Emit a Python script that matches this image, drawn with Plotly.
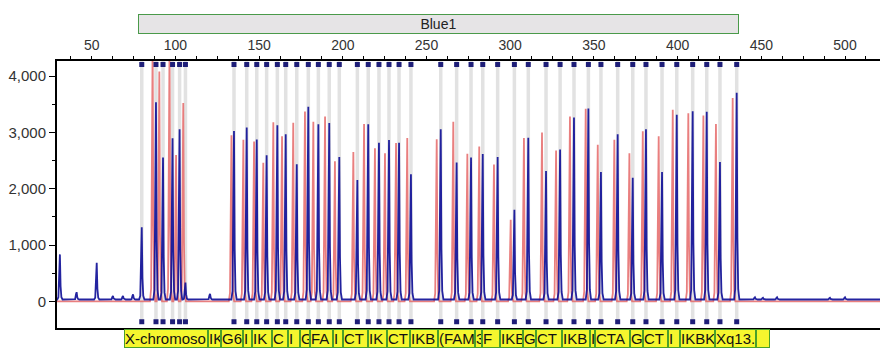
import plotly.graph_objects as go

# ---------------- data ----------------
# bin centres (bp) = sample (blue) peak positions
bin_bp = [79.9, 88.4, 92.6, 98.3, 102.5, 106.0,
          135.0, 142.6, 148.6, 154.5, 160.9, 165.9, 172.5, 179.4, 185.4, 191.9, 197.9,
          208.7, 215.2, 221.6, 227.6, 233.6, 240.7,
          258.5, 268.0, 276.6, 283.6, 292.5, 302.5, 310.8, 321.4, 329.8, 338.1, 346.7,
          354.2, 364.2, 373.2, 381.1, 390.7, 399.5, 409.0, 417.4, 425.3, 435.3]
blue_height = [1280, 3500, 2520, 2860, 3020, 300,
               2990, 3050, 2840, 2560, 3090, 2930, 2400, 3420, 3110, 3130, 2530,
               2120, 3110, 2780, 2830, 2780, 2220,
               3020, 2430, 2520, 2580, 2530, 1590, 2870, 2280, 2660, 3230, 3390,
               2260, 2930, 2160, 3020, 2260, 3280, 3340, 3330, 2440, 3670]
# reference (red) peaks
red_bp = [78.0, 86.4, 90.4, 96.5, 100.4, 104.7,
          133.5, 140.6, 147.0, 152.5, 158.5, 163.7, 170.4, 177.4, 182.4, 189.4, 195.3,
          206.3, 212.7, 219.2, 225.2, 231.8, 238.5,
          256.1, 266.0, 274.4, 281.5, 290.3, 300.3, 308.2, 319.0, 327.4, 335.7, 345.1,
          352.3, 362.2, 371.2, 379.2, 388.7, 397.1, 406.4, 415.4, 422.9, 432.9]
red_height = [0, 4600, 4080, 4600, 2600, 3520,
              2950, 2870, 2840, 2460, 3180, 2930, 3170, 3370, 3190, 3280, 2490,
              2650, 3150, 2720, 2630, 2810, 2900,
              2880, 3190, 2620, 2750, 2430, 1450, 2900, 3000, 2680, 3280, 3420,
              2780, 2870, 2630, 3020, 2930, 3400, 3340, 3300, 3150, 3610]
# small unbinned blue peaks (noise / primer region)
noise_bp = [31.0, 41.0, 53.0, 62.7, 68.7, 74.7, 120.7, 446.2, 451.0, 459.4, 491.0, 500.0]
noise_height = [800, 130, 650, 60, 60, 90, 100, 40, 30, 40, 30, 40]

blue_baseline = 35
red_baseline = 0

panel_name = "Blue1"
panel_range = [77.8, 436.7]

label_edges = [69.3, 119.5, 127.2, 140.4, 145.8, 157.7, 167.3, 174.4, 180.4, 194.1,
               200.1, 215.1, 226.4, 240.1, 256.9, 279.0, 283.2, 293.9, 307.6, 315.4,
               330.9, 347.7, 350.7, 371.6, 379.3, 394.3, 401.4, 422.3, 446.8, 455.2]
label_text = ["X-chromoso", "IK", "G6", "I", "IK", "C", "I", "G",
              "FA", "I", "CT", "IK", "CT", "IKB", "(FAM", "3",
              "F", "IKB", "G", "CT", "IKB", "I", "CTA", "G",
              "CT", "I", "IKBK", "Xq13.", ""]

x_ticks = [50, 100, 150, 200, 250, 300, 350, 400, 450, 500]
y_ticks = [0, 1000, 2000, 3000, 4000]

# ---------------- layout geometry ----------------
W, H = 880, 349
M_L, M_R, M_T, M_B = 57, 0, 61, 21
X_RANGE = [29.27, 520.9]
Y_RANGE = [-471, 4267]
plot_w = W - M_L - M_R
plot_h = H - M_T - M_B
px_per_bp = plot_w / (X_RANGE[1] - X_RANGE[0])


def paper_y(py):
    return (H - M_B - py) / plot_h


# peak drawing template (rendering only)
PEAK_DX = [-1.6, -0.9, -0.35, 0.0, 0.4, 0.9, 1.6]
PEAK_FR = [0.0, 0.05, 0.75, 1.0, 0.3, 0.05, 0.0]


def peak_line(pos, hts, base):
    xs, ys = [X_RANGE[0]], [base]
    for p, h in sorted(zip(pos, hts)):
        for dx, f in zip(PEAK_DX, PEAK_FR):
            xs.append(p + dx)
            ys.append(base + f * h)
    xs.append(X_RANGE[1])
    ys.append(base)
    return xs, ys


fig = go.Figure()

# bin lines
gx, gy = [], []
for b in bin_bp:
    gx += [b, b, None]
    gy += [-390, Y_RANGE[1], None]
fig.add_trace(go.Scatter(x=gx, y=gy, mode="lines",
                         line=dict(color="#e2e2e2", width=3.5), hoverinfo="skip"))

# red reference trace
rx, ry = peak_line(red_bp, red_height, red_baseline)
fig.add_trace(go.Scatter(x=rx, y=ry, mode="lines",
                         line=dict(color="rgba(228,95,95,0.8)", width=1.8)))

# blue sample trace
bx, by = peak_line(bin_bp + noise_bp, blue_height + noise_height, blue_baseline)
fig.add_trace(go.Scatter(x=bx, y=by, mode="lines",
                         line=dict(color="rgba(12,12,150,0.9)", width=1.8)))

# bin markers top and bottom
fig.add_trace(go.Scatter(x=bin_bp, y=[4205] * len(bin_bp), mode="markers",
                         marker=dict(symbol="square", size=5, color="#1e1e78"),
                         cliponaxis=False))
fig.add_trace(go.Scatter(x=bin_bp, y=[-360] * len(bin_bp), mode="markers",
                         marker=dict(symbol="square", size=5, color="#1e1e78")))

annotations = []
# panel box
annotations.append(dict(
    x=(panel_range[0] + panel_range[1]) / 2, xref="x", y=paper_y(23.5), yref="paper",
    text=panel_name, showarrow=False, width=(panel_range[1] - panel_range[0]) * px_per_bp - 2,
    height=18, bgcolor="#e6e4e6", bordercolor="#4a9a4a", borderwidth=1, borderpad=0,
    font=dict(family="Liberation Sans, Arial", size=14, color="#222"),
    xanchor="center", yanchor="middle", align="center"))

# marker label boxes
for i, t in enumerate(label_text):
    x0, x1 = label_edges[i], label_edges[i + 1]
    wpx = (x1 - x0) * px_per_bp - 2
    annotations.append(dict(
        x=(x0 + x1) / 2, xref="x", y=paper_y(338.5), yref="paper",
        text=t, showarrow=False, width=max(wpx, 1), height=17,
        bgcolor="#f6f62e", bordercolor="#4aa02a", borderwidth=1, borderpad=0,
        font=dict(family="Liberation Sans, Arial", size=15, color="#111"),
        xanchor="center", yanchor="middle", align="left"))

fig.update_layout(
    width=W, height=H,
    margin=dict(l=M_L, r=M_R, t=M_T, b=M_B),
    plot_bgcolor="white", paper_bgcolor="white",
    showlegend=False, hovermode=False,
    annotations=annotations,
    font=dict(family="Liberation Sans, Arial", size=15, color="#333"),
)
fig.update_xaxes(
    range=X_RANGE, side="top", tickvals=x_ticks, ticks="outside", ticklen=3,
    tickcolor="black", showline=True, linecolor="black", linewidth=2, mirror=True,
    showgrid=False, zeroline=False, ticklabelstandoff=0,
    minor=dict(dtick=12.5, tick0=0, ticks="outside", ticklen=3, tickcolor="black", showgrid=False),
    tickfont=dict(size=14, color="#333"),
)
fig.update_yaxes(
    range=Y_RANGE, tickvals=y_ticks, tickformat=",", ticks="outside", ticklen=6,
    tickcolor="black", showline=True, linecolor="black", linewidth=2,
    showgrid=False, zeroline=False,
    minor=dict(dtick=500, tick0=0, ticks="outside", ticklen=3, tickcolor="black", showgrid=False),
    tickfont=dict(size=15, color="#333"),
)

fig.write_html("out.html", config={"displayModeBar": False},
               post_script="document.body.style.margin='0';document.body.style.overflow='hidden';")
